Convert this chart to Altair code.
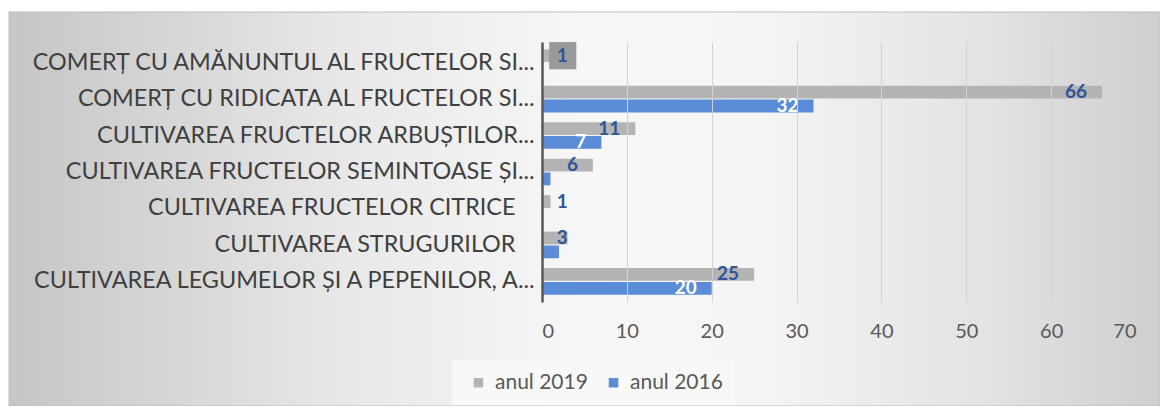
import altair as alt
import pandas as pd

categories = [
    "COMERȚ CU AMĂNUNTUL AL FRUCTELOR SI...",
    "COMERȚ CU RIDICATA AL FRUCTELOR SI...",
    "CULTIVAREA FRUCTELOR ARBUȘTILOR...",
    "CULTIVAREA FRUCTELOR SEMINTOASE ȘI...",
    "CULTIVAREA FRUCTELOR CITRICE",
    "CULTIVAREA STRUGURILOR",
    "CULTIVAREA LEGUMELOR ȘI A PEPENILOR, A...",
]
# labels that carry trailing spaces in the original chart
spaced_labels = ["CULTIVAREA FRUCTELOR CITRICE", "CULTIVAREA STRUGURILOR"]
series = ["anul 2019", "anul 2016"]
values_2019 = [1, 66, 11, 6, 1, 3, 25]
values_2016 = [None, 32, 7, 1, None, 2, 20]
x_ticks = [0, 10, 20, 30, 40, 50, 60, 70]
series_colors = ["#b4b4b4", "#5b8cd8"]

rows = []
for c, a, b in zip(categories, values_2019, values_2016):
    if a is not None:
        rows.append({"cat": c, "series": series[0], "value": a})
    if b is not None:
        rows.append({"cat": c, "series": series[1], "value": b})
df = pd.DataFrame(rows)

FONT = "Lato"
W, H = 594, 260
PAD = {"left": 534, "top": 34, "right": 24, "bottom": 104}

spaced_test = " || ".join("datum.value == '%s'" % s for s in spaced_labels)

y_enc = alt.Y("cat:N", sort=categories,
              scale=alt.Scale(paddingInner=0.27, paddingOuter=0.2),
              axis=alt.Axis(title=None, labelFont=FONT, labelFontSize=23.4,
                            labelColor="#404040", labelLimit=700,
                            labelPadding={"condition": {"test": spaced_test, "value": 27},
                                          "value": 8},
                            ticks=False, domain=True, domainColor="#595959",
                            domainWidth=2.5, grid=False, zindex=1))
yoff_enc = alt.YOffset("series:N", sort=series,
                       scale=alt.Scale(domain=series, paddingInner=0.08))
x_scale = alt.Scale(domain=[0, 70], nice=False)
x_axis = alt.Axis(title=None, values=x_ticks, labelFont=FONT, labelFontSize=20,
                  labelColor="#595959", labelPadding=19, ticks=False,
                  domain=False, grid=True, gridColor="#d2d2d2", gridWidth=1,
                  zindex=1)

base = alt.Chart(df)

gradient = alt.LinearGradient(
    gradient="linear", x1=0, y1=0, x2=1, y2=0,
    stops=[
        alt.GradientStop(offset=0.0, color="#c6c6c6"),
        alt.GradientStop(offset=0.3, color="#e9e9e9"),
        alt.GradientStop(offset=0.5, color="#f7f7f7"),
        alt.GradientStop(offset=0.65, color="#f5f5f5"),
        alt.GradientStop(offset=0.85, color="#e3e3e3"),
        alt.GradientStop(offset=1.0, color="#cfcfcf"),
    ],
)
bg = alt.Chart(pd.DataFrame({"a": [0]})).mark_rect(
    fill=gradient, stroke="#bdbdbd", strokeWidth=1
).encode(
    x=alt.value(-533), x2=alt.value(W + PAD["right"]),
    y=alt.value(-30), y2=alt.value(H + PAD["bottom"]),
)

bars = base.mark_bar().encode(
    x=alt.X("value:Q", scale=x_scale, axis=x_axis),
    y=y_enc,
    yOffset=yoff_enc,
    color=alt.Color("series:N", sort=series,
                    scale=alt.Scale(domain=series, range=series_colors),
                    legend=alt.Legend(title=None, orient="none", direction="horizontal",
                                      legendX=-90, legendY=318,
                                      labelFont=FONT, labelFontSize=21,
                                      labelColor="#595959", symbolType="square",
                                      symbolSize=90, symbolStrokeWidth=0,
                                      symbolOffset=4, labelOffset=6,
                                      columnPadding=11, padding=12,
                                      fillColor="#f8f8f8")),
)

lab19 = base.transform_filter(alt.datum.series == series[0]).transform_calculate(
    lx="max(datum.value, 4.8)"
)
box = lab19.transform_filter(alt.datum.cat == categories[0]).mark_square(
    size=740, color="#9a9a9a", opacity=1, xOffset=-20
).encode(x=alt.X("lx:Q", scale=x_scale), y=alt.Y("cat:N", sort=categories),
         yOffset=alt.YOffset("series:N", sort=series))

text19 = lab19.mark_text(
    align="right", baseline="middle", dx=-15, font=FONT, fontSize=19,
    fontWeight="bold", color="#2f5597"
).encode(x=alt.X("lx:Q", scale=x_scale), y=alt.Y("cat:N", sort=categories),
         yOffset=alt.YOffset("series:N", sort=series), text="value:Q")

text16 = base.transform_filter(
    (alt.datum.series == series[1]) & (alt.datum.value >= 5)
).mark_text(
    align="right", baseline="middle", dx=-15, font=FONT, fontSize=19,
    fontWeight="bold", color="white"
).encode(x=alt.X("value:Q", scale=x_scale), y=alt.Y("cat:N", sort=categories),
         yOffset=alt.YOffset("series:N", sort=series), text="value:Q")

chart = alt.layer(bg, bars, box, text19, text16).properties(
    width=W, height=H,
    autosize=alt.AutoSizeParams(type="none"),
    padding=PAD,
    background="white",
).configure_view(stroke=None)

chart.save("out.html", embed_options={"renderer": "svg", "actions": False})
